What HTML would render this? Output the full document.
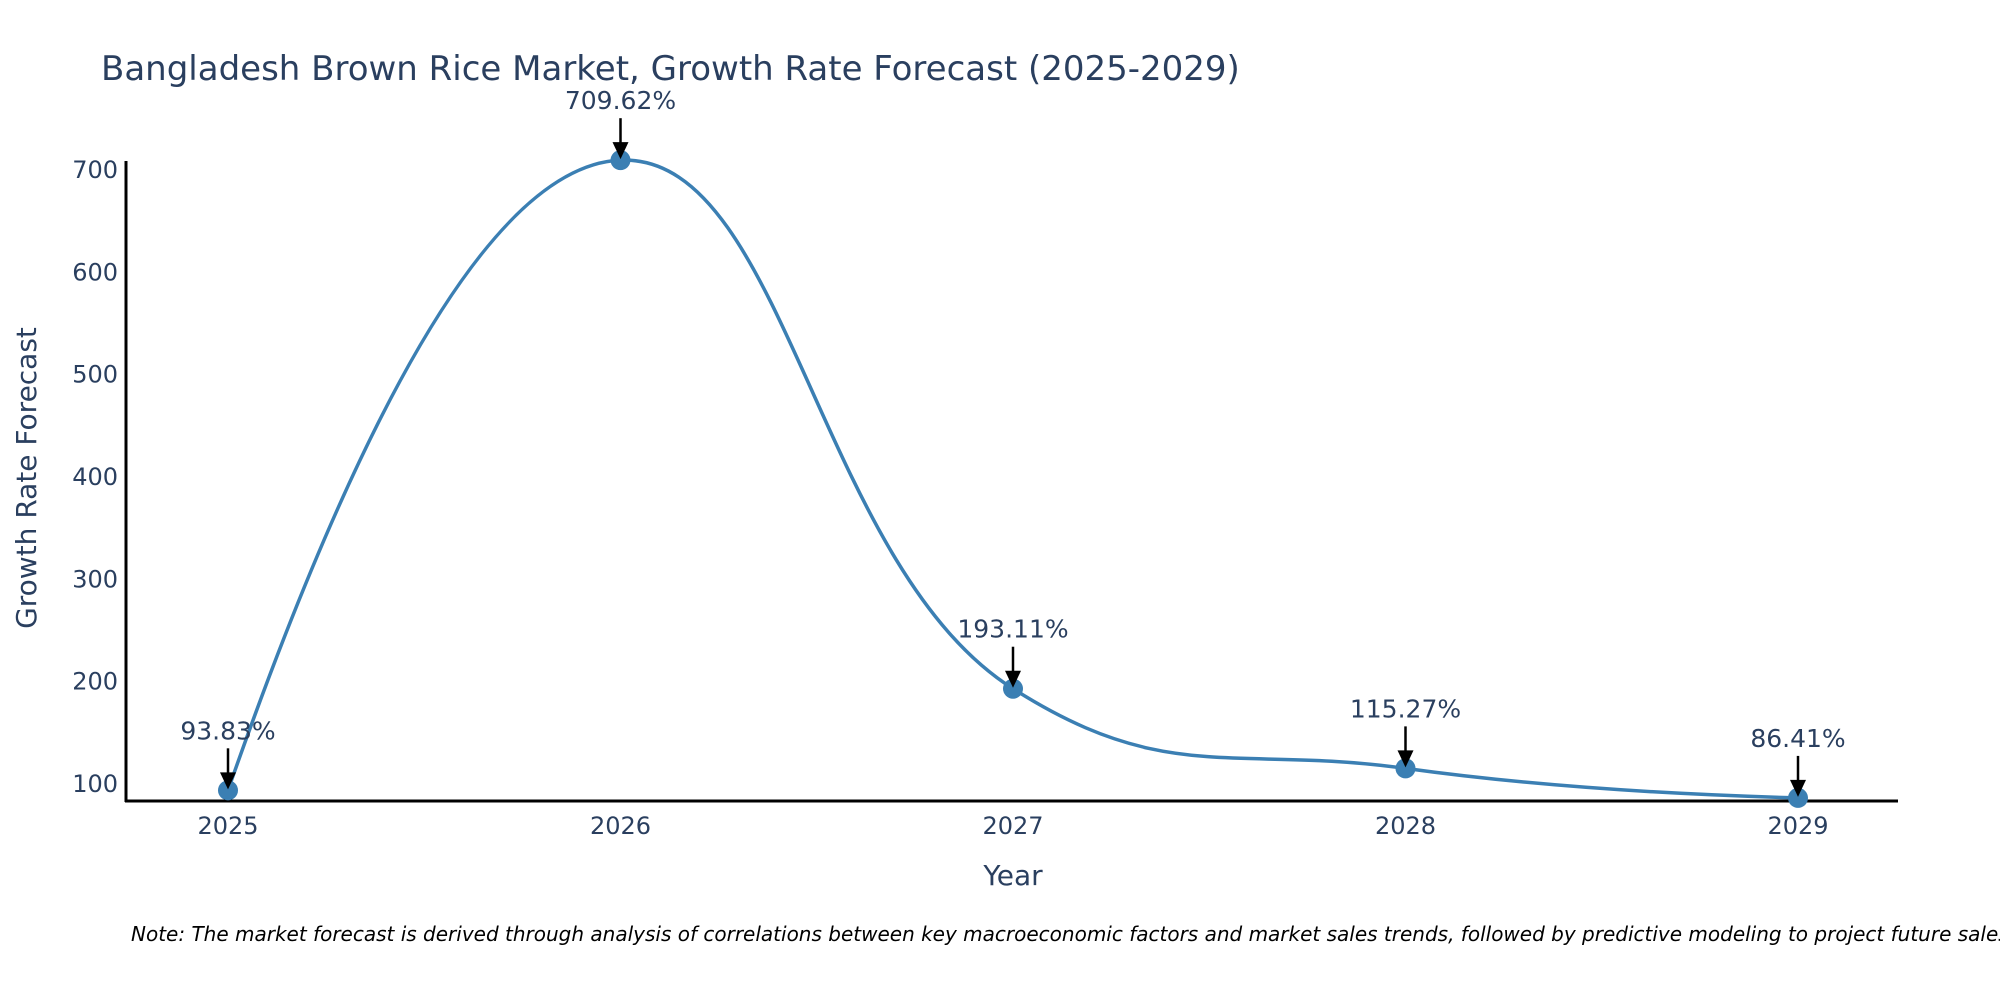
<!DOCTYPE html>
<html><head><meta charset="utf-8">
<style>
html,body{margin:0;padding:0;width:2000px;height:1000px;overflow:hidden;background:#fff;}
svg text{font-family:"DejaVu Sans","Liberation Sans",sans-serif;fill:#2a3f5f;}
</style></head>
<body>
<svg id="chart" width="2000" height="1000" viewBox="0 0 2000 1000" xmlns="http://www.w3.org/2000/svg">
<text x="101" y="80" font-size="34">Bangladesh Brown Rice Market, Growth Rate Forecast (2025-2029)</text>
<line x1="126" y1="161" x2="126" y2="802" stroke="#000" stroke-width="3"/>
<line x1="125" y1="801" x2="1898" y2="801" stroke="#000" stroke-width="3"/>
<g id="yticks"></g>
<g id="xticks"></g>
<path id="line" fill="none" stroke="#3b7fb3" stroke-width="3.5"/>
<g id="points"></g>
<g id="annots"></g>
<text x="1013" y="885" font-size="28" text-anchor="middle">Year</text>
<text transform="translate(36,478) rotate(-90)" font-size="28" text-anchor="middle">Growth Rate Forecast</text>
<text x="131" y="941" font-size="20" font-style="italic" style="fill:#000">Note: The market forecast is derived through analysis of correlations between key macroeconomic factors and market sales trends, followed by predictive modeling to project future sales.</text>
</svg>
<script>
const years = [2025, 2026, 2027, 2028, 2029];
const values = [93.83, 709.62, 193.11, 115.27, 86.41];
const labels = ["93.83%", "709.62%", "193.11%", "115.27%", "86.41%"];
const yTicks = [100, 200, 300, 400, 500, 600, 700];

const NS = "http://www.w3.org/2000/svg";
const xScale = y => 228 + (y - 2025) * 392.5;
const yScale = v => 784 - (v - 100) * 1.0233;
function mk(tag, attrs, parent){const e=document.createElementNS(NS,tag);for(const k in attrs)e.setAttribute(k,attrs[k]);parent.appendChild(e);return e;}

const yt = document.getElementById('yticks');
yTicks.forEach(t=>{
  const e = mk('text',{x:118,y:yScale(t)+8,'font-size':24,'text-anchor':'end'},yt);
  
  
  e.textContent = t;
});
const xt = document.getElementById('xticks');
years.forEach(y=>{
  const e = mk('text',{x:xScale(y),y:834,'font-size':24,'text-anchor':'middle'},xt);
  
  
  e.textContent = y;
});

const pts = years.map((y,i)=>[xScale(y), yScale(values[i])]);
function makeTangent(a,b,c,s){
  const d1x=a[0]-b[0], d1y=a[1]-b[1], d2x=c[0]-b[0], d2y=c[1]-b[1];
  const d1a=Math.pow(d1x*d1x+d1y*d1y,0.25), d2a=Math.pow(d2x*d2x+d2y*d2y,0.25);
  const nx=(d2a*d2a*d1x-d1a*d1a*d2x)*s, ny=(d2a*d2a*d1y-d1a*d1a*d2y)*s;
  const den1=3*d2a*(d1a+d2a), den2=3*d1a*(d1a+d2a);
  return [[b[0]+nx/den1,b[1]+ny/den1],[b[0]-nx/den2,b[1]-ny/den2]];
}
const tang=[];
for(let i=1;i<pts.length-1;i++) tang.push(makeTangent(pts[i-1],pts[i],pts[i+1],1.3));
let d = `M${pts[0]}Q${tang[0][0]} ${pts[1]}`;
for(let i=2;i<pts.length-1;i++) d += `C${tang[i-2][1]} ${tang[i-1][0]} ${pts[i]}`;
d += `Q${tang[pts.length-3][1]} ${pts[pts.length-1]}`;
document.getElementById('line').setAttribute('d', d);

const pg = document.getElementById('points');
const ag = document.getElementById('annots');
pts.forEach((p,i)=>{
  const c = mk('circle',{cx:p[0],cy:p[1],r:10,fill:'#3b7fb3'},pg);
  
  
  const l = mk('line',{x1:p[0],y1:p[1]-42,x2:p[0],y2:p[1]-14,stroke:'#000','stroke-width':2.5},ag);
  
  
  const h = mk('path',{d:`M${p[0]-8},${p[1]-18} L${p[0]+8},${p[1]-18} L${p[0]},${p[1]-1} Z`,fill:'#000'},ag);
  
  
  const tx = mk('text',{x:p[0],y:p[1]-51,'font-size':25,'text-anchor':'middle'},ag);
  
  
  tx.textContent = labels[i];
});
</script>
</body></html>
